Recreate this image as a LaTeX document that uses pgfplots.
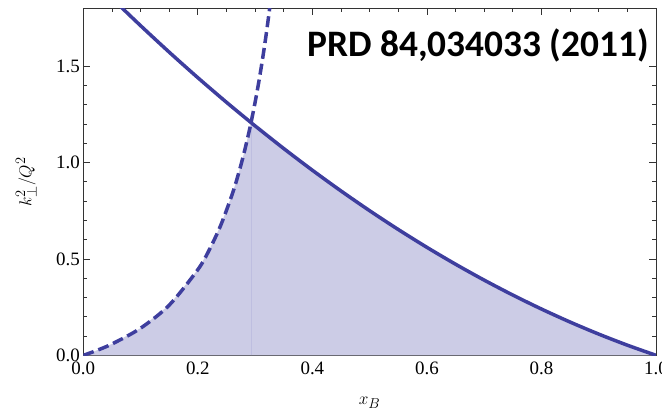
\documentclass[border=0pt]{standalone}
\usepackage{fontspec}
\usepackage{pgfplots}
\pgfplotsset{compat=1.18}
\setmainfont{Liberation Serif}
\newfontfamily\carlito{Carlito}
\definecolor{curve}{RGB}{62,62,158}
\definecolor{shade}{RGB}{204,204,230}
\definecolor{edge}{RGB}{190,190,224}
\begin{document}
\begin{tikzpicture}
\begin{axis}[
 scale only axis, width=572.7bp, height=347bp,
 xmin=0, xmax=1, ymin=0, ymax=1.8,
 xtick={0,0.2,0.4,0.6,0.8,1}, ytick={0,0.5,1,1.5},
 minor x tick num=3, minor y tick num=4,
 tick align=inside,
 major tick length=7bp, minor tick length=4bp,
 axis line style={black!80, line width=1pt},
 every tick/.style={black!80, line width=0.8pt},
 /pgf/number format/.cd, fixed, fixed zerofill, precision=1, assume math mode=true,
 /pgfplots/.cd,
 ticklabel style={font=\fontsize{19}{20}\selectfont},
 xticklabel style={yshift=-3bp},
 xlabel={$x_B$}, ylabel={$k_\perp^2/Q^2$},
 xlabel style={at={(axis description cs:0.5,-0.138)}, anchor=center, font=\fontsize{19}{20}\selectfont},
 ylabel style={at={(axis description cs:-0.0995,0.5)}, anchor=center, font=\fontsize{19}{20}\selectfont},
 clip=true,
]
\coordinate (SW) at (rel axis cs:0,0);
\coordinate (NE) at (rel axis cs:1,1);
% shaded allowed region
\addplot[fill=shade, draw=none] coordinates {
(0,0) (0.02,0.02127) (0.05,0.05864) (0.1,0.1406) (0.15,0.2602) (0.2,0.4444)
(0.22,0.5472) (0.24,0.6746) (0.26,0.8351) (0.27,0.9315) (0.28,1.0413) (0.29,1.1672) (0.2929,1.2071)
(0.3,1.19) (0.35,1.0725) (0.4,0.96) (0.45,0.8525) (0.5,0.75) (0.55,0.6525) (0.6,0.56)
(0.65,0.4725) (0.7,0.39) (0.75,0.3125) (0.8,0.24) (0.85,0.1725) (0.9,0.11) (0.95,0.0525) (1,0)
} -- cycle;
\addplot[edge, line width=0.8pt] coordinates {(0.2929,0) (0.2929,1.2071)};
% dashed bound
\addplot[curve, line width=3.5bp, dash pattern=on 11bp off 5bp, smooth] coordinates {
(0,0) (0.02,0.02127) (0.05,0.05864) (0.1,0.1406) (0.15,0.2602) (0.2,0.4444)
(0.22,0.5472) (0.24,0.6746) (0.26,0.8351) (0.27,0.9315) (0.28,1.0413) (0.29,1.1672) (0.2929,1.2071)
(0.3,1.3125) (0.305,1.3937) (0.31,1.4813) (0.315,1.5762) (0.32,1.679) (0.325,1.7908) (0.33,1.9126)
};
% solid bound
\addplot[curve, line width=3.5bp, smooth] coordinates {
(0.06,1.8236) (0.1,1.71) (0.15,1.5725) (0.2,1.44) (0.25,1.3125) (0.2929,1.2071) (0.3,1.19) (0.35,1.0725)
(0.4,0.96) (0.45,0.8525) (0.5,0.75) (0.55,0.6525) (0.6,0.56) (0.65,0.4725) (0.7,0.39)
(0.75,0.3125) (0.8,0.24) (0.85,0.1725) (0.9,0.11) (0.95,0.0525) (1,0)
};
\end{axis}
\node[anchor=east, font=\carlito\bfseries\fontsize{37.5}{40}\selectfont, inner sep=0pt]
  at ([shift={(-7bp,-37bp)}]NE) {PRD 84,034033 (2011)};
\pgfresetboundingbox
\useasboundingbox ([shift={(-83.3bp,-58.7bp)}]SW) rectangle ([shift={(6bp,8.3bp)}]NE);
\end{tikzpicture}
\end{document}
